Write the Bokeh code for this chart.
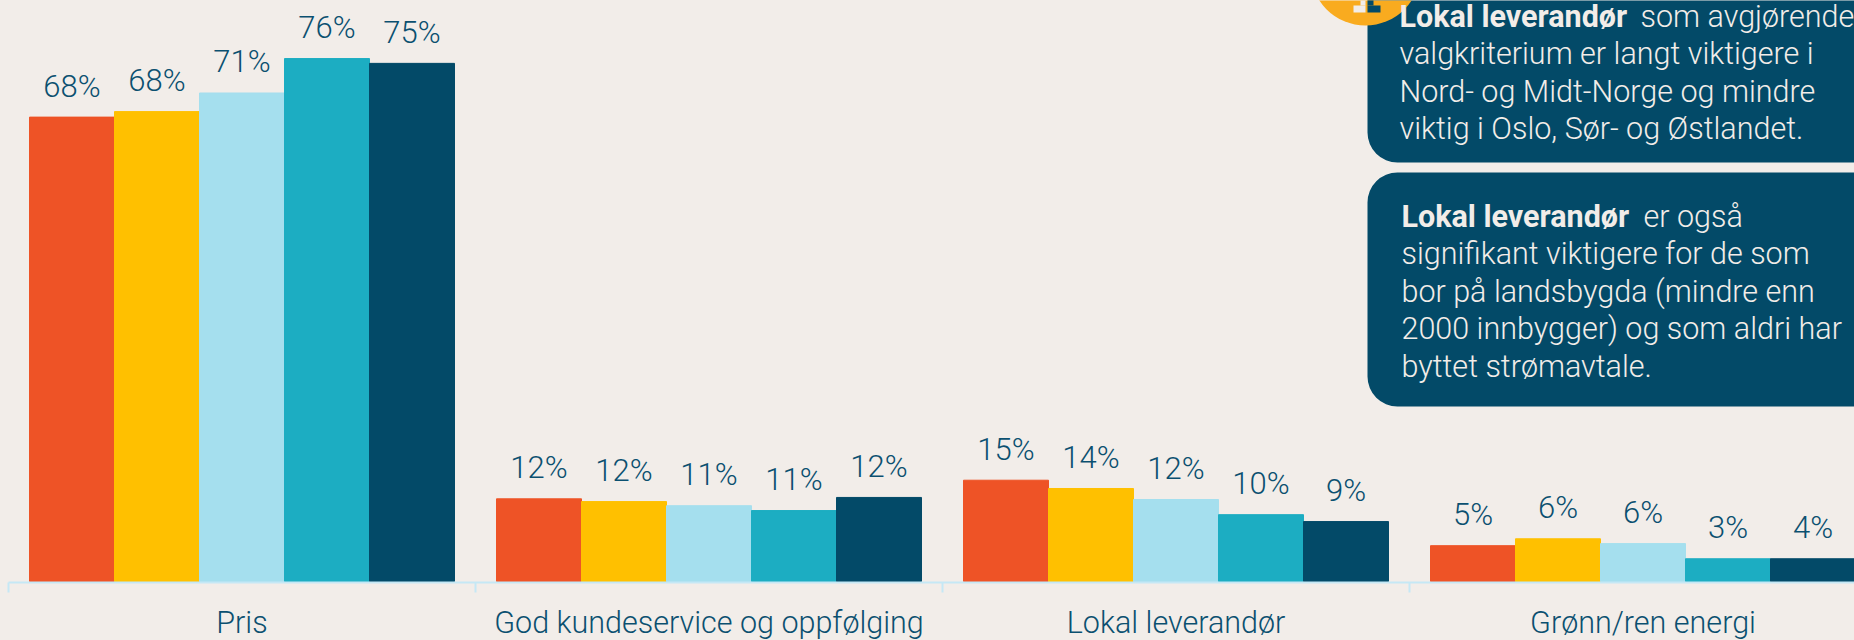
from bokeh.plotting import figure
from bokeh.embed import file_html
from bokeh.resources import INLINE
from bokeh.models import (ColumnDataSource, Range1d, FixedTicker, Label, BoxAnnotation,
                          GlobalInlineStyleSheet)
from bokeh.core.properties import value

categories = ["Pris", "God kundeservice og oppfølging", "Lokal leverandør", "Grønn/ren energi"]
series_values = [
    [67.4, 12.0, 14.7, 5.2],
    [68.2, 11.6, 13.5, 6.2],
    [70.9, 11.0, 11.9, 5.5],
    [75.9, 10.3, 9.7, 3.3],
    [75.2, 12.2, 8.7, 3.3],
]
value_labels = [
    ["68%", "12%", "15%", "5%"],
    ["68%", "12%", "14%", "6%"],
    ["71%", "11%", "12%", "6%"],
    ["76%", "11%", "10%", "3%"],
    ["75%", "12%", "9%", "4%"],
]
colors = ["#EE5326", "#FFC000", "#A5DFEE", "#1CADC2", "#034A68"]
box1_lines = ["valgkriterium er langt viktigere i", "Nord- og Midt-Norge og mindre",
              "viktig i Oslo, Sør- og Østlandet."]
box2_lines = ["signifikant viktigere for de som", "bor på landsbygda (mindre enn",
              "2000 innbygger) og som aldri har", "byttet strømavtale."]

BG = "#F2EDE9"
INK = "#0B5070"
FONT = "Roboto Light"
PX = 467.0
PY = 6.89
FRAME_H = 582

p = figure(width=1854, height=640, output_backend="svg", toolbar_location=None,
           x_range=Range1d(-8 / PX, 1846 / PX), y_range=Range1d(-1 / PY, 581 / PY),
           min_border=0, min_border_bottom=58, background_fill_color=BG,
           border_fill_color=BG, outline_line_color=None)
p.frame_height = FRAME_H
p.frame_width = 1854
p.grid.visible = False
p.yaxis.visible = False
p.stylesheets = [GlobalInlineStyleSheet(css=f"html,body{{margin:0!important;background:{BG};overflow:hidden}}")]

bw = 85 / PX
for j, (vals, labs, col) in enumerate(zip(series_values, value_labels, colors)):
    xs = [i + 0.5 + (j - 2) * bw for i in range(len(categories))]
    src = ColumnDataSource(dict(x=xs, top=vals, lab=labs))
    p.vbar(x="x", top="top", bottom=0, width=bw, color=col, source=src)
    p.text(x="x", y="top", text="lab", source=src, text_align="center", text_baseline="alphabetic",
           y_offset=-31, text_color=INK, text_font=value(FONT), text_font_size="31px")

ax = p.xaxis[0]
ax.bounds = (0, len(categories))
ax.ticker = FixedTicker(ticks=[i + 0.5 for i in range(len(categories))],
                        minor_ticks=list(range(len(categories) + 1)))
ax.major_label_overrides = {i + 0.5: c for i, c in enumerate(categories)}
ax.major_tick_line_color = None
ax.major_tick_out = 0
ax.major_tick_in = 0
ax.minor_tick_out = 10
ax.minor_tick_in = 0
ax.minor_tick_line_color = "#C5E8F5"
ax.minor_tick_line_width = 2
ax.axis_line_color = "#C5E8F5"
ax.axis_line_width = 2
ax.major_label_standoff = 12
ax.major_label_text_font = FONT
ax.major_label_text_font_size = "30.5px"
ax.major_label_text_color = INK

def scr_y(y):
    return FRAME_H - y

def box(l, r, t, b, color, radius=0):
    p.add_layout(BoxAnnotation(left=l, right=r, top=scr_y(t), bottom=scr_y(b),
                               left_units="screen", right_units="screen", top_units="screen",
                               bottom_units="screen", fill_color=color, fill_alpha=1,
                               line_color=None, border_radius=radius))

box(1367, 1900, -60, 162, "#034A68", 30)
box(1367, 1900, 172, 406, "#034A68", 30)

# info icon at the top, cut by the page edge
box(1310, 1420, -85, 25, "#F9AB1F", 55)
box(1353, 1365, 5, 12, BG)
box(1360, 1365, -5, 5, BG)
box(1367, 1380, 5, 12, "#034A68")
box(1367, 1373, -5, 5, "#034A68")

def label(x, base, text, bold=False):
    p.add_layout(Label(x=x, y=scr_y(base - 11), x_units="screen", y_units="screen", text=text,
                       text_font="Roboto" if bold else FONT, text_font_size="30.5px", text_color=BG,
                       text_font_style="bold" if bold else "normal", text_baseline="alphabetic"))

label(1399, 27, "Lokal leverandør", True)
label(1640, 27, "som avgjørende")
for k, t in enumerate(box1_lines):
    label(1399, 64 + k * 37.5, t)
label(1401, 227, "Lokal leverandør", True)
label(1643, 227, "er også")
for k, t in enumerate(box2_lines):
    label(1401, 264 + k * 37.7, t)

open("out.html", "w").write(file_html(p, INLINE))
